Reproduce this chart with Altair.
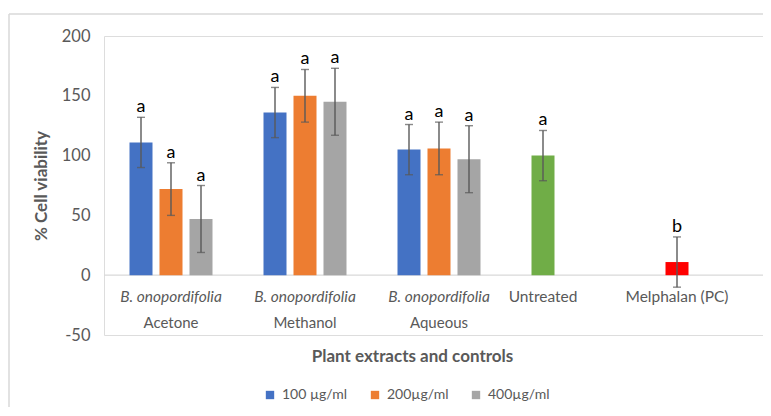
import altair as alt
import pandas as pd

# ---- data ----
categories = ["Acetone", "Methanol", "Aqueous", "Untreated", "Melphalan (PC)"]
concentrations = ["100 µg/ml", "200µg/ml", "400µg/ml"]

acetone_mean = [111, 72, 47]
acetone_sd = [21, 22, 28]
methanol_mean = [136, 150, 145]
methanol_sd = [21, 22, 28]
aqueous_mean = [105, 106, 97]
aqueous_sd = [21, 22, 28]
untreated_mean = [100]
untreated_sd = [21]
melphalan_mean = [11]
melphalan_sd = [21]

extract_letters = ["a", "a", "a"]
untreated_letter = ["a"]
melphalan_letter = ["b"]

label_line1 = ["B. onopordifolia", "B. onopordifolia", "B. onopordifolia", "Untreated", "Melphalan (PC)"]
label_line2 = ["Acetone", "Methanol", "Aqueous", "", ""]

colors = ["#4472C4", "#ED7D31", "#A5A5A5", "#70AD47", "#FF0000"]

FONT = "Lato"
GREY = "#595959"

rows = []
for cat, means, sds in [("Acetone", acetone_mean, acetone_sd),
                        ("Methanol", methanol_mean, methanol_sd),
                        ("Aqueous", aqueous_mean, aqueous_sd)]:
    for conc, m, s, l in zip(concentrations, means, sds, extract_letters):
        rows.append(dict(category=cat, slot=conc, key=conc, value=m, sd=s, letter=l))
rows.append(dict(category="Untreated", slot=concentrations[0], key="Untreated",
                 value=untreated_mean[0], sd=untreated_sd[0], letter=untreated_letter[0]))
rows.append(dict(category="Melphalan (PC)", slot=concentrations[0], key="Melphalan (PC)",
                 value=melphalan_mean[0], sd=melphalan_sd[0], letter=melphalan_letter[0]))
df = pd.DataFrame(rows)
df["lo"] = df["value"] - df["sd"]
df["hi"] = df["value"] + df["sd"]

labels = pd.DataFrame(dict(category=categories, line1=label_line1, line2=label_line2))
labels["slot"] = [concentrations[1]] * 3 + [concentrations[0]] * 2
labels["italic"] = [True, True, True, False, False]

x_enc = alt.X("category:N", sort=categories,
              scale=alt.Scale(domain=categories, range=[0, 670], paddingInner=0, paddingOuter=0),
              axis=alt.Axis(labels=False, ticks=False, domain=False, grid=False,
                            title="Plant extracts and controls", titleFontSize=17,
                            titleFont=FONT, titleFontWeight="bold", titleColor=GREY,
                            titleX=308, titleY=13, titleBaseline="top", titleAlign="center"))
xo_enc = alt.XOffset("slot:N", scale=alt.Scale(domain=concentrations, paddingInner=0.233, paddingOuter=0.85))
y_scale = alt.Scale(domain=[-50, 200], nice=False, zero=False)

base = alt.Chart(df)

bars = base.mark_bar().encode(
    x=x_enc, xOffset=xo_enc,
    y=alt.Y("value:Q", scale=y_scale,
            axis=alt.Axis(values=[-50, 0, 50, 100, 150, 200], grid=False, domain=False, ticks=False,
                          labelExpr="'' + datum.value",
                          labelColor=GREY, labelFontSize=16.5, labelFont=FONT, labelPadding=14,
                          title="% Cell viability", titleFontSize=17, titleFont=FONT,
                          titleFontWeight="bold", titleColor=GREY, titlePadding=11)),
    y2=alt.Y2(datum=0),
    color=alt.Color("key:N", scale=alt.Scale(domain=concentrations + ["Untreated", "Melphalan (PC)"], range=colors),
                    legend=alt.Legend(values=concentrations, title=None, orient="none", direction="horizontal",
                                      legendX=159, legendY=352, symbolType="square", symbolSize=70,
                                      symbolStrokeWidth=0, labelFontSize=14, labelFont=FONT,
                                      labelColor=GREY, columnPadding=20, labelOffset=5)),
)

zero_line = alt.Chart(pd.DataFrame({"z": [0]})).mark_rule(color="#D9D9D9", strokeWidth=1.2).encode(
    y=alt.Y("z:Q", scale=y_scale), x=alt.value(0), x2=alt.value(680))

err = base.mark_rule(color=GREY, strokeWidth=1.4).encode(
    x=x_enc, xOffset=xo_enc, y=alt.Y("lo:Q", scale=y_scale), y2="hi:Q")
cap_hi = base.mark_tick(color=GREY, size=8, thickness=1.4, orient="horizontal").encode(
    x=x_enc, xOffset=xo_enc, y=alt.Y("hi:Q", scale=y_scale))
cap_lo = base.mark_tick(color=GREY, size=8, thickness=1.4, orient="horizontal").encode(
    x=x_enc, xOffset=xo_enc, y=alt.Y("lo:Q", scale=y_scale))
letters = base.mark_text(fontSize=18, font=FONT, color="black", baseline="alphabetic", dy=-5).encode(
    x=x_enc, xOffset=xo_enc, y=alt.Y("hi:Q", scale=y_scale), text="letter:N")

lab_base = alt.Chart(labels)
lab_it = lab_base.transform_filter("datum.italic").mark_text(
    fontSize=15.5, font=FONT, fontStyle="italic", color=GREY, baseline="middle").encode(
    x=x_enc, xOffset=xo_enc, y=alt.value(261), text="line1:N")
lab_plain = lab_base.transform_filter("!datum.italic").mark_text(
    fontSize=15.5, font=FONT, color=GREY, baseline="middle").encode(
    x=x_enc, xOffset=xo_enc, y=alt.value(261), text="line1:N")
lab_2 = lab_base.mark_text(fontSize=15, font=FONT, color=GREY, baseline="middle").encode(
    x=x_enc, xOffset=xo_enc, y=alt.value(287), text="line2:N")

frame_top = alt.Chart(pd.DataFrame({"z": [0]})).mark_rule(color="#D9D9D9", strokeWidth=1.5).encode(
    x=alt.value(-95), x2=alt.value(680), y=alt.value(-22))
frame_left = alt.Chart(pd.DataFrame({"z": [0]})).mark_rule(color="#D9D9D9", strokeWidth=1.5).encode(
    x=alt.value(-95), y=alt.value(-22), y2=alt.value(400))

chart = alt.layer(frame_top, frame_left, zero_line, bars, err, cap_hi, cap_lo, letters,
                  lab_it, lab_plain, lab_2).properties(
    width=659, height=299,
    padding={"left": 96, "top": 28, "right": 0, "bottom": 72},
    autosize=alt.AutoSizeParams(type="none"),
).configure_view(stroke=None).configure(background="white")

chart.save("out.html", embed_options={"renderer": "svg", "actions": False})
